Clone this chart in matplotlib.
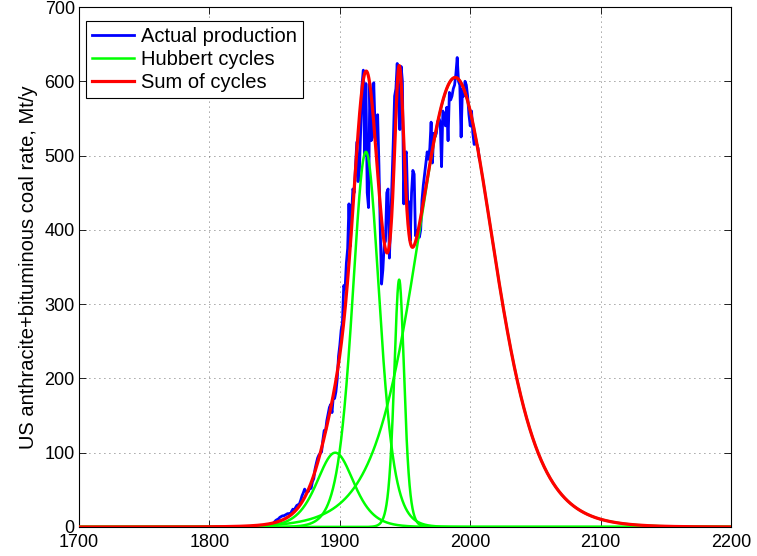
import numpy as np
import matplotlib
matplotlib.use('Agg')
import matplotlib.pyplot as plt

plt.rcParams['font.family'] = ['Liberation Sans', 'DejaVu Sans']

# Actual production, annual, 1850-2007 [Mt/y]
first_year = 1850
production = [
    7, 9, 10, 11, 13, 14, 15, 15, 16, 17,            # 1850s
    18, 18, 17, 21, 24, 22, 26, 29, 30, 31,          # 1860s
    36, 42, 46, 51, 48, 47, 48, 54, 52, 61,          # 1870s
    65, 78, 86, 93, 97, 99, 101, 117, 130, 128,      # 1880s
    143, 152, 161, 165, 154, 175, 173, 182, 199, 230,  # 1890s
    245, 265, 275, 325, 320, 355, 375, 435, 378, 420,  # 1900s
    455, 450, 485, 518, 465, 480, 535, 595, 615, 500,  # 1910s
    597, 450, 430, 597, 520, 525, 598, 540, 520, 555,  # 1920s
    487, 400, 327, 346, 380, 385, 450, 455, 362, 410,  # 1930s
    465, 520, 580, 590, 624, 575, 535, 620, 600, 435,  # 1940s
    500, 505, 440, 437, 385, 450, 480, 475, 392, 395,  # 1950s
    400, 390, 400, 440, 460, 475, 490, 505, 495, 510,  # 1960s
    545, 490, 530, 525, 530, 545, 550, 545, 485, 560,  # 1970s
    555, 540, 565, 520, 585, 575, 580, 590, 595, 610,  # 1980s
    632, 600, 595, 525, 590, 580, 600, 595, 580, 555,  # 1990s
    540, 560, 530, 515, 520, 515, 510, 495,            # 2000s
]
prod_years = np.arange(first_year, first_year + len(production))

# Hubbert cycles: peak year, peak rate [Mt/y], width [y]
peak_years = [1896.5, 1920.0, 1945.5, 1988.5]
peak_rates = [100, 505, 333, 605]
widths = [9.5, 7.0, 2.6, 20.5]

t = np.arange(1700, 2200.25, 0.25)
cycles = [2 * p / (1 + np.cosh((t - y0) / w))
          for y0, p, w in zip(peak_years, peak_rates, widths)]
total = np.sum(cycles, axis=0)

fig = plt.figure(figsize=(7.57, 5.56), dpi=100)
ax = fig.add_axes([0.1044, 0.0522, 0.8613, 0.9352])

ax.plot(prod_years, production, color='#0000ff', lw=2.0,
        label='Actual production', zorder=2)
for i, c in enumerate(cycles):
    ax.plot(t, c, color='#00ff00', lw=1.8, zorder=3,
            label='Hubbert cycles' if i == 0 else None)
ax.plot(t, total, color='#ff0000', lw=2.3, label='Sum of cycles', zorder=4)

ax.set_xlim(1700, 2200)
ax.set_ylim(0, 700)
ax.set_xticks(np.arange(1700, 2201, 100))
ax.set_yticks(np.arange(0, 701, 100))
ax.tick_params(direction='in', top=True, right=True, labelsize=13,
               length=5, width=0.6, pad=3)
ax.tick_params(axis='x', pad=5)
ax.grid(True, ls=(0, (1, 5)), color='#444444', lw=0.6)
for s in ax.spines.values():
    s.set_linewidth(0.8)
ax.set_ylabel('US anthracite+bituminous coal rate, Mt/y', fontsize=14.5,
              labelpad=5)

leg = ax.legend(loc='upper left', bbox_to_anchor=(7 / 652, 1 - 14 / 520),
                borderaxespad=0, fontsize=14.5, fancybox=False,
                edgecolor='black', framealpha=1, handlelength=2.1,
                labelspacing=0.2, borderpad=0.3, handletextpad=0.35)
leg.get_frame().set_linewidth(0.8)

plt.savefig('out.png', dpi=100)
